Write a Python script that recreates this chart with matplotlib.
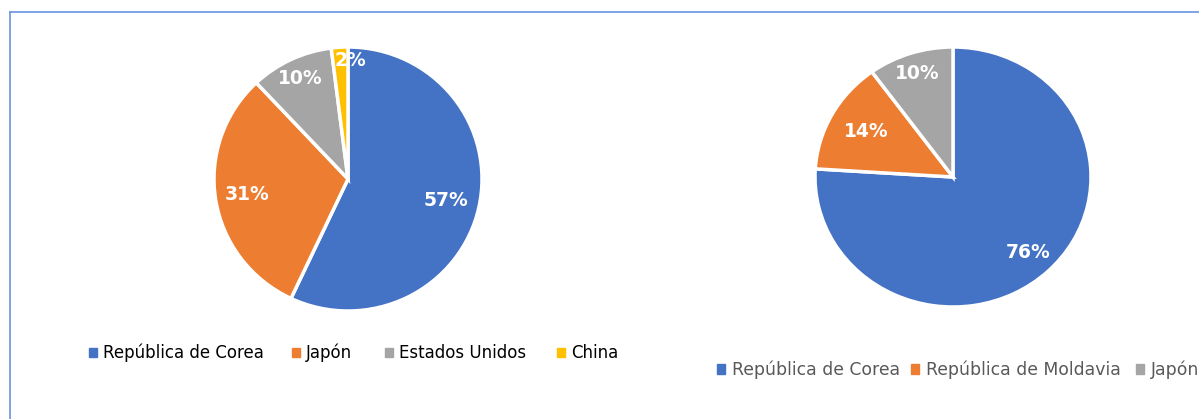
import matplotlib.pyplot as plt
from matplotlib.patches import Patch
import numpy as np

plt.rcParams['font.family'] = ['DejaVu Sans']

left_labels = ["República de Corea", "Japón", "Estados Unidos", "China"]
left_values = [57, 31, 10, 2]
left_colors = ["#4472C4", "#ED7D31", "#A5A5A5", "#FFC000"]

right_labels = ["República de Corea", "República de Moldavia", "Japón"]
right_values = [76, 14, 10]
right_colors = ["#4472C4", "#ED7D31", "#A5A5A5"]

W, H = 1199, 419


def px_axes(fig, cx, cy, rx, ry):
    # axes box in pixels, cy measured from the top
    return fig.add_axes([(cx - rx) / W, (H - cy - ry) / H, 2 * rx / W, 2 * ry / H])


def draw_pie(ax, values, colors, dists, dx):
    wedges, _ = ax.pie(values, colors=colors, startangle=90, counterclock=False,
                       radius=1, wedgeprops=dict(edgecolor="white", linewidth=2.5))
    total = sum(values)
    for w, v, d, off in zip(wedges, values, dists, dx):
        ang = np.deg2rad((w.theta1 + w.theta2) / 2)
        ax.text(d * np.cos(ang) + off, d * np.sin(ang), f"{round(100 * v / total)}%",
                ha="center", va="center", color="white", fontsize=13.5, fontweight="bold")
    ax.set_xlim(-1, 1)
    ax.set_ylim(-1, 1)
    ax.set_aspect("auto")
    ax.axis("off")


def legend_items(fig, labels, colors, xs, y, size, color):
    for lab, c, x in zip(labels, colors, xs):
        fig.legend([Patch(color=c)], [lab], loc="center left",
                   bbox_to_anchor=(x / W, 1 - y / H), frameon=False, fontsize=size,
                   handlelength=0.45, handleheight=0.45, handletextpad=0.4,
                   borderpad=0, borderaxespad=0, labelcolor=color)


fig = plt.figure(figsize=(W / 100, H / 100), dpi=100)

# frame lines (top and left)
fig.add_artist(plt.Line2D([10 / W, 1], [1 - 12 / H, 1 - 12 / H], color="#6A95DE", lw=1.2))
fig.add_artist(plt.Line2D([10 / W, 10 / W], [0, 1 - 12 / H], color="#6A95DE", lw=1.2))

ax1 = px_axes(fig, 348, 179, 134, 132)
draw_pie(ax1, left_values, left_colors, [0.75, 0.76, 0.84, 0.9], [0, 0, 0, 0.075])

ax2 = px_axes(fig, 953, 177, 138, 130)
draw_pie(ax2, right_values, right_colors, [0.8, 0.72, 0.84], [0, 0, 0])

legend_items(fig, left_labels, left_colors, [89, 292, 385, 557], 353, 12, "black")
legend_items(fig, right_labels, right_colors, [717, 911, 1136], 370, 12.4, "#595959")

fig.savefig("out.png", dpi=100)
